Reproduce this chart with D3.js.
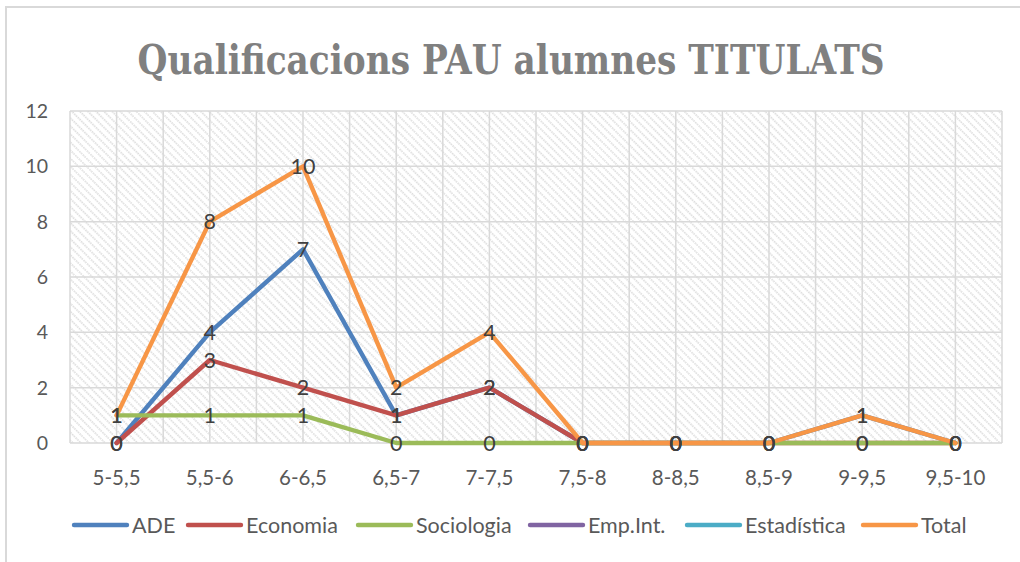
<!DOCTYPE html>
<html>
<head>
<meta charset="utf-8">
<script src="https://cdn.jsdelivr.net/npm/d3@7"></script>
<style>
  body { margin: 0; background: #fff; }
  svg { display: block; }
</style>
</head>
<body>
<svg width="1020" height="562"></svg>
<script>
var categories = ["5-5,5", "5,5-6", "6-6,5", "6,5-7", "7-7,5", "7,5-8", "8-8,5", "8,5-9", "9-9,5", "9,5-10"];
var ade        = [0, 4, 7, 1, 2, 0, 0, 0, 1, 0];
var economia   = [0, 3, 2, 1, 2, 0, 0, 0, 0, 0];
var sociologia = [1, 1, 1, 0, 0, 0, 0, 0, 0, 0];
var empInt     = [null, null, null, null, null, null, null, null, null, null];
var estadistica = [null, null, null, null, null, null, null, null, null, null];
var total      = [1, 8, 10, 2, 4, 0, 0, 0, 1, 0];
var seriesNames = ["ADE", "Economia", "Sociologia", "Emp.Int.", "Estadística", "Total"];
var yTicks = [0, 2, 4, 6, 8, 10, 12];

var colors = ["#4f81bd", "#c0504d", "#9bbb59", "#8064a2", "#4bacc6", "#f79646"];
var allSeries = [ade, economia, sociologia, empInt, estadistica, total];

var svg = d3.select("svg"),
    margin = {top: 111, right: 18, bottom: 119, left: 70},
    width = 1020 - margin.left - margin.right,
    height = 562 - margin.top - margin.bottom;

// outer chart border
svg.append("rect")
    .attr("x", 6).attr("y", 7)
    .attr("width", 1030).attr("height", 570)
    .attr("fill", "none")
    .attr("stroke", "#d9d9d9")
    .attr("stroke-width", 2);

// hatch pattern for the plot area
var pat = svg.append("defs").append("pattern")
    .attr("id", "hatch")
    .attr("patternUnits", "userSpaceOnUse")
    .attr("width", 5.7).attr("height", 10)
    .attr("patternTransform", "rotate(-45)");
pat.append("line")
    .attr("x1", 1).attr("y1", 0).attr("x2", 1).attr("y2", 10)
    .attr("stroke", "#d9d9d9")
    .attr("stroke-width", 1.6)
    .attr("stroke-dasharray", "1.6,0.9");

svg.append("text")
    .attr("x", 511).attr("y", 74)
    .attr("text-anchor", "middle")
    .attr("font-family", "DejaVu Serif Condensed, DejaVu Serif, serif")
    .attr("font-weight", "bold")
    .attr("font-size", 41)
    .attr("fill", "#808080")
    .attr("textLength", 747)
    .attr("lengthAdjust", "spacingAndGlyphs")
    .text("Qualificacions PAU alumnes TITULATS");

var g = svg.append("g").attr("transform", "translate(" + margin.left + "," + margin.top + ")");

var x = d3.scaleBand().domain(categories).range([0, width]);
var y = d3.scaleLinear().domain([0, 12]).range([height, 0]);

g.append("rect")
    .attr("width", width).attr("height", height)
    .attr("fill", "url(#hatch)");

// horizontal gridlines
g.selectAll(".hgrid").data(yTicks).enter().append("line")
    .attr("x1", 0).attr("x2", width)
    .attr("y1", function(d) { return y(d); })
    .attr("y2", function(d) { return y(d); })
    .attr("stroke", "#d9d9d9").attr("stroke-width", 1.5);

// vertical gridlines at boundaries and centres
var vLines = [];
categories.forEach(function(c, i) { vLines.push(x(c)); vLines.push(x(c) + x.bandwidth() / 2); });
vLines.push(width);
g.selectAll(".vgrid").data(vLines).enter().append("line")
    .attr("x1", function(d) { return d; }).attr("x2", function(d) { return d; })
    .attr("y1", 0).attr("y2", height)
    .attr("stroke", "#d9d9d9").attr("stroke-width", 1.5);

// y axis labels
g.selectAll(".ylab").data(yTicks).enter().append("text")
    .attr("x", -22)
    .attr("y", function(d) { return y(d); })
    .attr("dy", "0.36em")
    .attr("text-anchor", "end")
    .attr("font-family", "Lato, sans-serif")
    .attr("font-size", 19.5)
    .attr("fill", "#595959")
    .text(function(d) { return d; });

// x axis labels
g.selectAll(".xlab").data(categories).enter().append("text")
    .attr("x", function(d) { return x(d) + x.bandwidth() / 2; })
    .attr("y", height + 42)
    .attr("text-anchor", "middle")
    .attr("font-family", "Lato, sans-serif")
    .attr("font-size", 20.5)
    .attr("fill", "#595959")
    .text(function(d) { return d; });

var line = d3.line()
    .defined(function(d) { return d != null; })
    .x(function(d, i) { return x(categories[i]) + x.bandwidth() / 2; })
    .y(function(d) { return y(d); });

allSeries.forEach(function(s, k) {
    g.append("path")
        .datum(s)
        .attr("d", line)
        .attr("fill", "none")
        .attr("stroke", colors[k])
        .attr("stroke-width", 4.4)
        .attr("stroke-linejoin", "round")
        .attr("stroke-linecap", "round");
});

// data labels
allSeries.forEach(function(s, k) {
    g.selectAll(".lab" + k).data(s.filter(function(d) { return d != null; }).map(function(d, i) { return {v: d, i: i}; }))
        .enter().append("text")
        .attr("x", function(d) { return x(categories[d.i]) + x.bandwidth() / 2; })
        .attr("y", function(d) { return y(d.v); })
        .attr("dy", "0.36em")
        .attr("text-anchor", "middle")
        .attr("font-family", "Lato, sans-serif")
        .attr("font-size", 21.5)
        .attr("fill", "#404040")
        .text(function(d) { return d.v; });
});

// legend
var legendX = [74, 188, 358, 530, 687, 863];
var leg = svg.selectAll(".leg").data(seriesNames).enter().append("g")
    .attr("transform", function(d, i) { return "translate(" + legendX[i] + ",525)"; });
leg.append("line")
    .attr("x1", 0).attr("x2", 53).attr("y1", 0).attr("y2", 0)
    .attr("stroke", function(d, i) { return colors[i]; })
    .attr("stroke-width", 4.4)
    .attr("stroke-linecap", "round");
leg.append("text")
    .attr("x", 58).attr("y", 0).attr("dy", "0.36em")
    .attr("font-family", "Lato, sans-serif")
    .attr("font-size", 21.5)
    .attr("fill", "#595959")
    .text(function(d) { return d; });
</script>
</body>
</html>
